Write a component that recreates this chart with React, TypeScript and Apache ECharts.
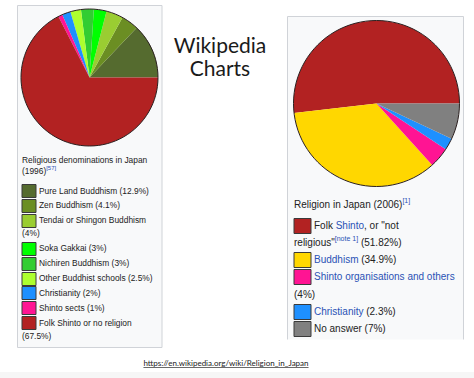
import React, { useEffect, useRef } from "react";
import * as echarts from "echarts";

// ---------- data ----------
const leftLabels = [
  "Pure Land Buddhism",
  "Zen Buddhism",
  "Tendai or Shingon Buddhism",
  "Soka Gakkai",
  "Nichiren Buddhism",
  "Other Buddhist schools",
  "Christianity",
  "Shinto sects",
  "Folk Shinto or no religion",
];
const leftValues = [12.9, 4.1, 4, 3, 3, 2.5, 2, 1, 67.5];
const leftColors = ["#556B2F", "#6B8E23", "#9ACD32", "#00FF00", "#32CD32", "#ADFF2F", "#1E90FF", "#FF1493", "#B22222"];
const leftTitle = "Religious denominations in Japan";
const leftTitle2 = "(1996){s|[57]}";

const rightLabels = [
  'Folk {a|Shinto}, or "not religious"{s|[note 1]}',
  "{a|Buddhism}",
  "{a|Shinto organisations and others}",
  "{a|Christianity}",
  "No answer",
];
const rightValues = [51.82, 34.9, 4, 2.3, 7];
const rightColors = ["#B22222", "#FFD700", "#FF1493", "#1E90FF", "#808080"];
const rightTitle = "Religion in Japan (2006){s|[1]}";

const pageTitle = ["Wikipedia", "Charts"];
const sourceUrl = "https://en.wikipedia.org/wiki/Religion_in_Japan";

// ---------- helpers ----------
const SANS = '"Liberation Sans", Arial, sans-serif';
const LINK = "#2a52b5";
const TEXT = "#222";

let ctx: CanvasRenderingContext2D | null = null;
function getCtx() {
  if (!ctx) ctx = document.createElement("canvas").getContext("2d");
  return ctx!;
}
function measure(markup: string, size: number, supSize: number, family = SANS) {
  const c = getCtx();
  let w = 0;
  const re = /\{(\w+)\|([^}]*)\}|([^{]+)/g;
  let m: RegExpExecArray | null;
  while ((m = re.exec(markup))) {
    if (m[3] !== undefined) {
      c.font = `${size}px ${family}`;
      w += c.measureText(m[3]).width;
    } else {
      c.font = `${m[1] === "s" ? supSize : size}px ${family}`;
      w += c.measureText(m[2]).width;
    }
  }
  return w;
}
function splitWords(markup: string) {
  const words: string[] = [];
  let cur = "";
  let depth = 0;
  for (const ch of markup) {
    if (ch === "{") depth++;
    if (ch === "}") depth--;
    if (ch === " " && depth === 0) {
      words.push(cur);
      cur = "";
    } else cur += ch;
  }
  if (cur) words.push(cur);
  return words;
}
function wrap(markup: string, firstW: number, restW: number, size: number, supSize: number) {
  const words = splitWords(markup);
  const lines: string[] = [];
  let cur = "";
  let limit = firstW;
  for (const w of words) {
    const cand = cur ? cur + " " + w : w;
    if (cur && measure(cand, size, supSize) > limit) {
      lines.push(cur);
      cur = w;
      limit = restW;
    } else cur = cand;
  }
  lines.push(cur);
  return lines;
}

function richFor(size: number, supSize: number) {
  return {
    a: { fontSize: size, fontFamily: SANS, fill: LINK },
    s: { fontSize: supSize, fontFamily: SANS, fill: LINK, lineHeight: supSize, verticalAlign: "top" },
  };
}

function textEl(text: string, x: number, y: number, size: number, supSize: number, lh: number) {
  return {
    type: "text",
    z: 10,
    silent: true,
    style: {
      text,
      x,
      y,
      fill: TEXT,
      fontSize: size,
      fontFamily: SANS,
      lineHeight: lh,
      verticalAlign: "middle",
      align: "left",
      rich: richFor(size, supSize),
    },
  };
}

function buildLegend(
  labels: string[],
  values: number[],
  colors: string[],
  cfg: {
    sqX: number; sqW: number; sqH: number; textX: number; restX: number; rightEdge: number;
    startY: number; itemStep: number; wrapStep: number; size: number; supSize: number; lh: number;
  }
) {
  const els: any[] = [];
  let y = cfg.startY;
  labels.forEach((lab, i) => {
    const markup = `${lab} (${values[i]}%)`;
    const lines = wrap(markup, cfg.rightEdge - cfg.textX, cfg.rightEdge - cfg.restX, cfg.size, cfg.supSize);
    els.push({
      type: "rect",
      z: 10,
      silent: true,
      shape: { x: cfg.sqX + 0.5, y: Math.round(y - cfg.sqH / 2) + 0.5, width: cfg.sqW, height: cfg.sqH },
      style: { fill: colors[i], stroke: "#3a3a3a", lineWidth: 1 },
    });
    lines.forEach((ln, j) => {
      const ly = y + j * cfg.wrapStep;
      els.push(textEl(ln, j === 0 ? cfg.textX : cfg.restX, ly, cfg.size, cfg.supSize, cfg.lh));
    });
    y = y + (lines.length - 1) * cfg.wrapStep + cfg.itemStep;
  });
  return els;
}

function pieSeries(labels: string[], values: number[], colors: string[], center: number[], r: number) {
  return [
    {
      type: "pie",
      center,
      radius: r,
      startAngle: 0,
      clockwise: false,
      silent: true,
      z: 3,
      label: { show: false },
      labelLine: { show: false },
      emphasis: { disabled: true },
      itemStyle: { borderWidth: 0 },
      data: labels.map((n, i) => ({ name: n, value: values[i], itemStyle: { color: colors[i] } })),
    },
    {
      type: "pie",
      center,
      radius: r,
      silent: true,
      z: 4,
      label: { show: false },
      labelLine: { show: false },
      emphasis: { disabled: true },
      data: [{ name: "outline", value: 1, itemStyle: { color: "rgba(0,0,0,0)", borderColor: "#2b2020", borderWidth: 1 } }],
    },
  ];
}

export default function App() {
  const ref = useRef<HTMLDivElement>(null);
  useEffect(() => {
    if (!ref.current) return;
    const chart = echarts.init(ref.current, null, { renderer: "svg" });

    const urlSize = 8;
    const urlW = measure(sourceUrl, urlSize, urlSize, "Lato");
    const urlCx = 226;

    const graphics: any[] = [
      // left box
      {
        type: "rect",
        z: 0,
        silent: true,
        shape: { x: 17.5, y: 5.5, width: 144.5, height: 342 },
        style: { fill: "#F8F9FA", stroke: "#D0D3D8", lineWidth: 1 },
      },
      // right box
      {
        type: "rect",
        z: 0,
        silent: true,
        shape: { x: 287.5, y: 16.5, width: 176, height: 323 },
        style: { fill: "#F8F9FA" },
      },
      {
        type: "polyline",
        z: 1,
        silent: true,
        shape: { points: [[287.5, 339.5], [287.5, 16.5], [463.5, 16.5], [463.5, 339.5]] },
        style: { fill: null, stroke: "#D0D3D8", lineWidth: 1 },
      },
      // bottom band
      {
        type: "rect",
        z: 0,
        silent: true,
        shape: { x: 0, y: 372, width: 474, height: 6 },
        style: { fill: "#F6F6F6" },
      },
      // page title
      ...pageTitle.map((t, i) => ({
        type: "text",
        z: 10,
        silent: true,
        style: {
          text: t,
          x: 220,
          y: 44.5 + i * 23,
          align: "center",
          verticalAlign: "middle",
          fontSize: 21,
          lineHeight: 21,
          fontFamily: "Lato",
          fill: "#1a1a1a",
        },
      })),
      // url
      {
        type: "text",
        z: 10,
        silent: true,
        style: {
          text: sourceUrl,
          x: urlCx,
          y: 363,
          align: "center",
          verticalAlign: "middle",
          fontSize: urlSize,
          fontFamily: "Lato",
          fill: "#222",
        },
      },
      {
        type: "line",
        z: 10,
        silent: true,
        shape: { x1: urlCx - urlW / 2, y1: 367.5, x2: urlCx + urlW / 2, y2: 367.5 },
        style: { stroke: "#444", lineWidth: 0.8 },
      },
      // left legend title
      textEl(leftTitle, 22, 159.5, 8.4, 6, 12),
      textEl(leftTitle2, 22, 170.5, 8.4, 6, 12),
      ...buildLegend(leftLabels, leftValues, leftColors, {
        sqX: 21.5, sqW: 14, sqH: 13, textX: 39, restX: 22, rightEdge: 158,
        startY: 190.5, itemStep: 14.9, wrapStep: 13, size: 8.4, supSize: 6, lh: 12,
      }),
      // right legend
      textEl(rightTitle, 294, 204, 10, 7, 14),
      ...buildLegend(rightLabels, rightValues, rightColors, {
        sqX: 293.5, sqW: 17, sqH: 15, textX: 314, restX: 294, rightEdge: 460,
        startY: 225, itemStep: 17.3, wrapStep: 17.3, size: 10, supSize: 7, lh: 14,
      }),
    ];

    chart.setOption({
      animation: false,
      backgroundColor: "#ffffff",
      series: [
        ...pieSeries(leftLabels, leftValues, leftColors, [89.5, 77.5], 68.5),
        ...pieSeries(rightLabels, rightValues, rightColors, [376.5, 103.5], 83),
      ],
      graphic: { elements: graphics },
    });
    return () => chart.dispose();
  }, []);
  return <div ref={ref} style={{ position: "fixed", left: 0, top: 0, width: 474, height: 378 }} />;
}
